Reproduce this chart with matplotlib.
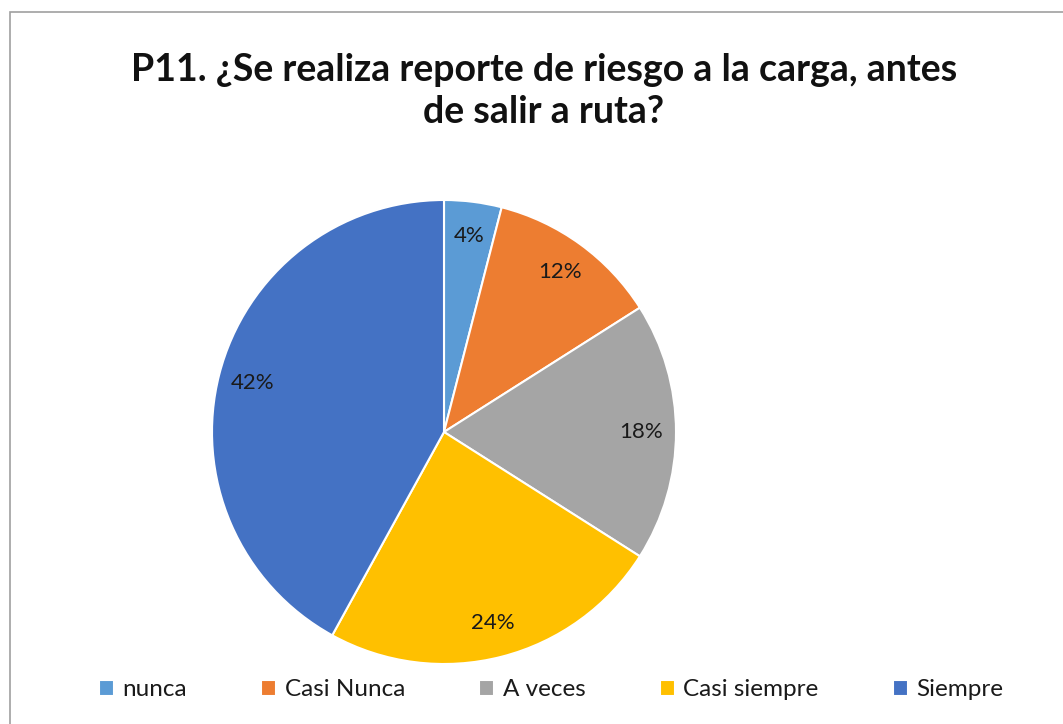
import matplotlib
matplotlib.use("Agg")
import matplotlib.pyplot as plt
from matplotlib.patches import Rectangle

categories = ["nunca", "Casi Nunca", "A veces", "Casi siempre", "Siempre"]
values = [4, 12, 18, 24, 42]
colors = ["#5B9BD5", "#ED7D31", "#A5A5A5", "#FFC000", "#4472C4"]
title = "P11. ¿Se realiza reporte de riesgo a la carga, antes\nde salir a ruta?"

plt.rcParams['font.family'] = ['Lato', 'DejaVu Sans']

W, H = 1063, 724
fig = plt.figure(figsize=(W / 100, H / 100), dpi=100)
fig.patch.set_facecolor("white")

# frame
fig.patches.append(Rectangle((10 / W, -0.1), 1.2, 1 - 12 / H + 0.1, transform=fig.transFigure,
                             fill=False, edgecolor="#A0A0A0", linewidth=1.2))

cx, cy, r = 444, 432, 232
ax = fig.add_axes([(cx - r) / W, (H - cy - r) / H, 2 * r / W, 2 * r / H])
wedges, texts, autotexts = ax.pie(values, colors=colors, startangle=90, counterclock=False,
                                  autopct=lambda p: f"{p:.0f}%", pctdistance=0.85,
                                  wedgeprops=dict(edgecolor="white", linewidth=1.5),
                                  textprops=dict(fontsize=16, color="#1a1a1a"))
ax.set_aspect("equal")
ax.set_xlim(-1, 1)
ax.set_ylim(-1, 1)

fig.text(544 / W, 1 - 91 / H, title, ha="center", va="center", fontsize=27,
         fontweight="bold", color="#111111", linespacing=1.3)

leg = fig.legend(wedges, categories, loc="center", bbox_to_anchor=(551 / W, 1 - 690 / H),
                 ncol=5, frameon=False, fontsize=17.5, handlelength=0.62, handleheight=0.62,
                 handletextpad=0.35, columnspacing=3.05)
for t in leg.get_texts():
    t.set_color("#1a1a1a")

fig.savefig("out.png", dpi=100)
